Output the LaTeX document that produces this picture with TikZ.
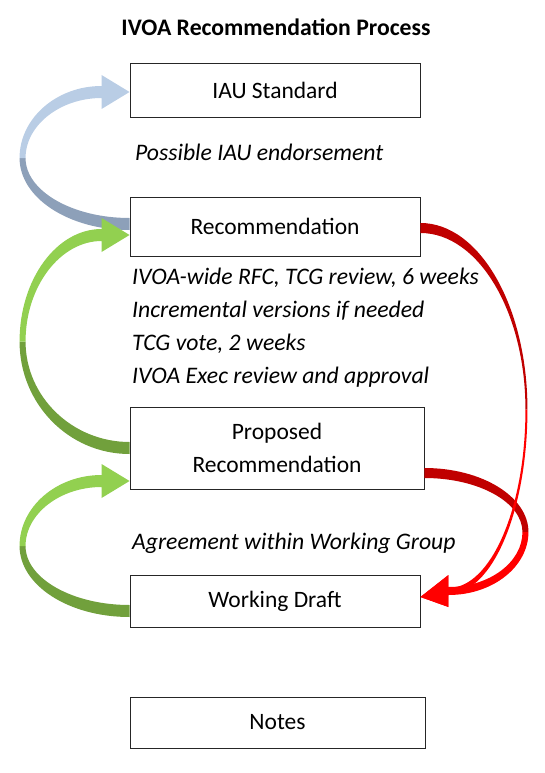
\documentclass[tikz,border=0pt]{standalone}
\usepackage{fontspec}
\setmainfont{Carlito}
\usetikzlibrary{calc}
\definecolor{bluelt}{RGB}{185,205,229}
\definecolor{bluedk}{RGB}{141,160,185}
\definecolor{greenlt}{RGB}{146,208,80}
\definecolor{greendk}{RGB}{113,160,60}
\definecolor{reddk}{RGB}{192,0,0}
\definecolor{redlt}{RGB}{255,0,0}
\tikzset{
  stagebox/.style={draw=black!85, line width=0.9pt, fill=white, inner sep=0pt,
    align=center, font=\fontsize{23.5}{33}\selectfont},
  remark/.style={anchor=base west, inner sep=0pt, font=\fontsize{23.7}{33}\selectfont\itshape}
}
\begin{document}
\begin{tikzpicture}[
        x=1pt,
        y=-1pt]
\useasboundingbox (0,0) rectangle (545,773);
\node (title) at (276,27) {\fontsize{23.7}{28}\selectfont\bfseries IVOA Recommendation Process};
% the stages
\node[stagebox, minimum width=290, minimum height=54] (iau) at (275,90) {IAU Standard};
\node[stagebox, minimum width=290, minimum height=59] (rec) at (275,226.5) {Recommendation};
\node[stagebox, minimum width=294, minimum height=82] (prop) at (277,448) {Proposed\\Recommendation};
\node[stagebox, minimum width=290, minimum height=52] (draft) at (275,601) {Working Draft};
\node[stagebox, minimum width=295, minimum height=51] (notes) at (277.5,722.5) {Notes};
% the remarks
\node[remark] (endorse) at (135,160.5) {Possible IAU endorsement};
\foreach \txt [count=\i] in {{IVOA-wide RFC, TCG review, 6 weeks},{Incremental versions if needed},{TCG vote, 2 weeks},{IVOA Exec review and approval}}{
    \node[remark] (review\i) at (132,{251.5+33*\i}) {\txt};
}
\node[remark] (agree) at (132,549.5) {Agreement within Working Group};
% promotion arrows on the left
\foreach \src/\dst/\ts/\hs/\lt/\dk in {rec/iau/-2.5/2/bluelt/bluedk, prop/rec/0/8.5/greenlt/greendk, draft/prop/10/33/greenlt/greendk}{
    \path (\src.west) ++(0,\ts) coordinate (tail);
    \path (\dst.west) ++(0,\hs) coordinate (head);
    \fill[\dk] let \p1=(tail), \p2=(head), \p3=($(tail)!.5!(head)$) in
        (\x1,{\y1-6pt}) .. controls ({\x1-61pt},{\y1-6pt}) and ({\x1-110pt},{\y3-0.552*(\y3-\y1+6pt)}) .. ({\x1-110pt},\y3)
        -- ({\x1-104pt},\y3) .. controls ({\x1-104pt},{\y3-0.552*(\y3-\y1-6pt)}) and ({\x1-57pt},{\y1+6pt}) .. (\x1,{\y1+6pt}) -- cycle;
    \fill[\lt] let \p1=(tail), \p2=(head), \p3=($(tail)!.5!(head)$) in
        ({\x1-110pt},\y3) .. controls ({\x1-110pt},{\y3+0.552*(\y2+6pt-\y3)}) and ({\x2-73pt},{\y2+6pt}) .. ({\x2-28pt},{\y2+6pt})
        -- ({\x2-28pt},{\y2+17pt}) -- (\x2,\y2) -- ({\x2-28pt},{\y2-17pt}) -- ({\x2-28pt},{\y2-6pt})
        .. controls ({\x2-69pt},{\y2-6pt}) and ({\x1-104pt},{\y3+0.552*(\y2-6pt-\y3)}) .. ({\x1-104pt},\y3) -- cycle;
}
% return arrows on the right
\path (draft.east) ++(0,-4) coordinate (tip);
\path (tip) ++(28,-6) coordinate (base);
\foreach \src/\ts/\bulge/\mw/\tw/\hw in {prop/25/104/3/5/4, rec/1.5/107/1/5/3}{
    \path (\src.east) ++(0,\ts) coordinate (tail);
    \fill[reddk] let \p1=(tail), \p2=(base), \p3=($(tail)!.5!(base)$) in
        (\x1,{\y1+\tw*1pt}) .. controls ({\x1+0.552*\bulge*1pt},{\y1+\tw*1pt}) and ({\x1+\bulge*1pt},{\y3+0.552*(\y1+\tw*1pt-\y3)}) .. ({\x1+\bulge*1pt},\y3)
        -- ({\x1+(\bulge-2*\mw)*1pt},\y3) .. controls ({\x1+(\bulge-2*\mw)*1pt},{\y3+0.552*(\y1-\tw*1pt-\y3)}) and ({\x1+0.552*(\bulge-2*\mw)*1pt},{\y1-\tw*1pt}) .. (\x1,{\y1-\tw*1pt}) -- cycle;
    \fill[redlt] let \p1=(tail), \p2=(base), \p3=($(tail)!.5!(base)$) in
        ({\x1+\bulge*1pt},\y3) .. controls ({\x1+\bulge*1pt},{\y3-0.552*(\y3-\y2+\hw*1pt)}) and ({\x2+0.552*(\x1+\bulge*1pt-\x2)},{\y2-\hw*1pt}) .. (\x2,{\y2-\hw*1pt})
        -- (\x2,{\y2-16pt}) -- (tip) -- (\x2,{\y2+16pt}) -- (\x2,{\y2+\hw*1pt})
        .. controls ({\x2+0.552*(\x1+(\bulge-2*\mw)*1pt-\x2)},{\y2+\hw*1pt}) and ({\x1+(\bulge-2*\mw)*1pt},{\y3-0.552*(\y3-\y2-\hw*1pt)}) .. ({\x1+(\bulge-2*\mw)*1pt},\y3) -- cycle;
}
\end{tikzpicture}
\end{document}
